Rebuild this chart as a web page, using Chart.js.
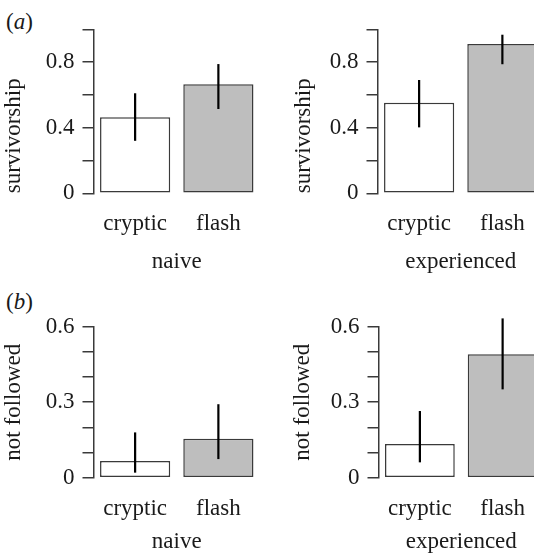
<!DOCTYPE html>
<html>
<head>
<meta charset="utf-8">
<script src="https://cdn.jsdelivr.net/npm/chart.js@4.4.1/dist/chart.umd.min.js"></script>
<style>
html, body { margin:0; padding:0; background:#fff; overflow:hidden; width:534px; height:554px; position:relative; }
canvas { position:absolute; }
.tag { position:absolute; font:23px "Liberation Serif", serif; color:#1a1a1a; line-height:23px; }
</style>
</head>
<body>
<div class="tag" style="left:6px;top:10px">(<i>a</i>)</div>
<div class="tag" style="left:6px;top:290px">(<i>b</i>)</div>
<canvas id="survNaive" width="260" height="280" style="left:0;top:0"></canvas>
<canvas id="survExp" width="277" height="280" style="left:267px;top:0"></canvas>
<canvas id="followNaive" width="260" height="276" style="left:0;top:280px"></canvas>
<canvas id="followExp" width="277" height="276" style="left:267px;top:280px"></canvas>
<script>
// data
const categories = ['cryptic', 'flash'];

const survNaive = [0.463, 0.665];
const survNaiveLow = [0.32, 0.514];
const survNaiveHigh = [0.61, 0.788];

const survExp = [0.552, 0.910];
const survExpLow = [0.402, 0.787];
const survExpHigh = [0.691, 0.967];

const followNaive = [0.066, 0.155];
const followNaiveLow = [0.020, 0.074];
const followNaiveHigh = [0.180, 0.292];

const followExp = [0.134, 0.491];
const followExpLow = [0.061, 0.351];
const followExpHigh = [0.265, 0.633];

const survTicks = [0, 0.4, 0.8];
const followTicks = [0, 0.3, 0.6];

const barColors = ['#ffffff', '#bebebe'];
const axisColor = '#3a3a3a';
const textColor = '#1a1a1a';
const font = {family: '"Liberation Serif", "Times New Roman", serif', size: 23};

// vertical error bars, drawn from the dataset's low/high arrays
const errorBars = {
    id: 'errorBars',
    afterDatasetsDraw(chart){
        const {ctx, scales:{y}} = chart;
        const ds = chart.data.datasets[0];
        ctx.save();
        ctx.strokeStyle = '#000';
        ctx.lineWidth = 2.2;
        chart.getDatasetMeta(0).data.forEach((bar, i) => {
            ctx.beginPath();
            ctx.moveTo(bar.x, y.getPixelForValue(ds.errLow[i]));
            ctx.lineTo(bar.x, y.getPixelForValue(ds.errHigh[i]));
            ctx.stroke();
        });
        ctx.restore();
    }
};

function makeChart(id, values, low, high, yTitle, xTitle, yMax, step, labelled, geo){
    return new Chart(document.getElementById(id), {
        type: 'bar',
        data: {
            labels: categories,
            datasets: [{
                data: values,
                errLow: low,
                errHigh: high,
                backgroundColor: barColors,
                borderColor: axisColor,
                borderWidth: 1.5,
                borderSkipped: false,
                categoryPercentage: 1,
                barPercentage: 0.843
            }]
        },
        options: {
            responsive: false,
            animation: false,
            layout: {padding: {top: geo.top, left: 0, right: 0, bottom: 0}},
            plugins: {legend: {display: false}, tooltip: {enabled: false}},
            scales: {
                x: {
                    border: {display: false},
                    grid: {display: false, drawTicks: false},
                    ticks: {padding: 17, color: textColor, font: font, maxRotation: 0},
                    title: {display: true, text: xTitle, color: textColor, font: font,
                            padding: {top: 0, bottom: geo.xTitlePad}},
                    afterFit: s => { s.height = geo.xH; }
                },
                y: {
                    min: 0,
                    max: yMax,
                    border: {display: true, color: axisColor, width: 1.5},
                    grid: {display: true, drawOnChartArea: false, drawTicks: true,
                           tickLength: 11, color: axisColor, lineWidth: 1.5},
                    ticks: {
                        stepSize: step,
                        autoSkip: false,
                        padding: 8,
                        color: textColor,
                        font: font,
                        callback: v => labelled.some(t => Math.abs(t - v) < 1e-6) ? String(Number(v.toFixed(2))) : ''
                    },
                    title: {display: true, text: yTitle, color: textColor, font: font,
                            align: geo.align, padding: {top: geo.titlePad, bottom: 0}},
                    afterFit: s => { s.width = geo.axisW; }
                }
            }
        },
        plugins: [errorBars]
    });
}

makeChart('survNaive', survNaive, survNaiveLow, survNaiveHigh, 'survivorship', 'naive', 1, 0.2, survTicks,
    {top: 29.3, xH: 86.7, xTitlePad: 4.7, axisW: 93.5, titlePad: 0, align: 'start'});
makeChart('survExp', survExp, survExpLow, survExpHigh, 'survivorship', 'experienced', 1, 0.2, survTicks,
    {top: 29.3, xH: 86.7, xTitlePad: 4.7, axisW: 110.5, titlePad: 23.5, align: 'start'});
makeChart('followNaive', followNaive, followNaiveLow, followNaiveHigh, 'not followed', 'naive', 0.6, 0.1, followTicks,
    {top: 46.7, xH: 78.3, xTitlePad: 0, axisW: 93.5, titlePad: 0, align: 'center'});
makeChart('followExp', followExp, followExpLow, followExpHigh, 'not followed', 'experienced', 0.6, 0.1, followTicks,
    {top: 46.7, xH: 78.3, xTitlePad: 0, axisW: 111.5, titlePad: 22.5, align: 'center'});
</script>
</body>
</html>
